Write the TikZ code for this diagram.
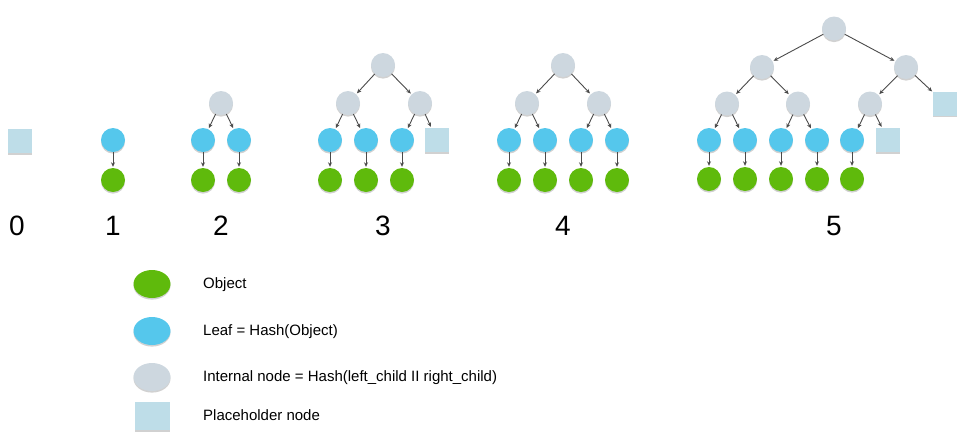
\documentclass[tikz,border=0pt]{standalone}
\usepackage{fontspec}
\setmainfont{Liberation Sans}
\usetikzlibrary{arrows.meta,shadows}
\definecolor{objgreen}{HTML}{5FBA0C}
\definecolor{leafblue}{HTML}{55C7EC}
\definecolor{intgray}{HTML}{CDD7DF}
\definecolor{phblue}{HTML}{BEDDE8}
\definecolor{edgegray}{HTML}{4A4A4A}
\tikzset{
  shad/.style={drop shadow={shadow xshift=0pt,shadow yshift=-1.6pt,opacity=0.18,fill=black}},
  objnode/.style={circle,fill=objgreen,minimum size=24pt,inner sep=0pt,shad},
  leafnode/.style={circle,fill=leafblue,minimum size=24pt,inner sep=0pt,shad},
  intnode/.style={circle,fill=intgray,minimum size=24pt,inner sep=0pt,shad},
  phnode/.style={rectangle,fill=phblue,minimum size=24pt,inner sep=0pt,shad},
  edge/.style={draw=edgegray,line width=0.9pt,-{Stealth[length=4.5pt,width=4pt]},shorten >=1pt},
  numlabel/.style={font=\fontsize{28}{32}\selectfont,inner sep=0pt},
  legtext/.style={font=\fontsize{15}{18}\selectfont,anchor=west,inner sep=0pt},
  legell/.style={ellipse,minimum width=37pt,minimum height=28pt,inner sep=0pt,shad},
}
\usetikzlibrary{shapes.geometric}
\begin{document}
\begin{tikzpicture}[x=1pt,y=-1pt]
\useasboundingbox (0,0) rectangle (966,445);
% group 0
\node[phnode] (g0p) at (20,141) {};
\node[numlabel] (n0) at (17,226) {0};
% group 1
\node[leafnode] (g1l1) at (113,140) {};
\node[objnode] (g1o1) at (113,180) {};
\draw[edge] (g1l1) -- (g1o1);
\node[numlabel] (n1) at (113,226) {1};
% group 2
\node[intnode] (g2r) at (221,103) {};
\node[leafnode] (g2l1) at (203,140) {};
\node[leafnode] (g2l2) at (239,140) {};
\node[objnode] (g2o1) at (203,180) {};
\node[objnode] (g2o2) at (239,180) {};
\draw[edge] (g2r) -- (g2l1);
\draw[edge] (g2r) -- (g2l2);
\draw[edge] (g2l1) -- (g2o1);
\draw[edge] (g2l2) -- (g2o2);
\node[numlabel] (n2) at (221,226) {2};
% group 3
\node[intnode] (g3r) at (383,65) {};
\node[intnode] (g3a) at (348,103) {};
\node[intnode] (g3b) at (420,103) {};
\node[leafnode] (g3l1) at (330,140) {};
\node[leafnode] (g3l2) at (366,140) {};
\node[leafnode] (g3l3) at (402,140) {};
\node[phnode] (g3p) at (437,140) {};
\node[objnode] (g3o1) at (330,180) {};
\node[objnode] (g3o2) at (366,180) {};
\node[objnode] (g3o3) at (402,180) {};
\draw[edge] (g3r) -- (g3a);
\draw[edge] (g3r) -- (g3b);
\draw[edge] (g3a) -- (g3l1);
\draw[edge] (g3a) -- (g3l2);
\draw[edge] (g3b) -- (g3l3);
\draw[edge] (g3b) -- (g3p);
\draw[edge] (g3l1) -- (g3o1);
\draw[edge] (g3l2) -- (g3o2);
\draw[edge] (g3l3) -- (g3o3);
\node[numlabel] (n3) at (383,226) {3};
% group 4
\node[intnode] (g4r) at (563,65) {};
\node[intnode] (g4a) at (527,103) {};
\node[intnode] (g4b) at (599,103) {};
\node[leafnode] (g4l1) at (509,140) {};
\node[leafnode] (g4l2) at (545,140) {};
\node[leafnode] (g4l3) at (581,140) {};
\node[leafnode] (g4l4) at (617,140) {};
\node[objnode] (g4o1) at (509,180) {};
\node[objnode] (g4o2) at (545,180) {};
\node[objnode] (g4o3) at (581,180) {};
\node[objnode] (g4o4) at (617,180) {};
\draw[edge] (g4r) -- (g4a);
\draw[edge] (g4r) -- (g4b);
\draw[edge] (g4a) -- (g4l1);
\draw[edge] (g4a) -- (g4l2);
\draw[edge] (g4b) -- (g4l3);
\draw[edge] (g4b) -- (g4l4);
\draw[edge] (g4l1) -- (g4o1);
\draw[edge] (g4l2) -- (g4o2);
\draw[edge] (g4l3) -- (g4o3);
\draw[edge] (g4l4) -- (g4o4);
\node[numlabel] (n4) at (563,226) {4};
% group 5
\node[intnode] (g5r) at (834,28.5) {};
\node[intnode] (g5a) at (762,67) {};
\node[intnode] (g5b) at (906,67) {};
\node[intnode] (g5c) at (727,103.5) {};
\node[intnode] (g5d) at (798,103.5) {};
\node[intnode] (g5e) at (870,103.5) {};
\node[phnode] (g5p1) at (945,103.5) {};
\node[leafnode] (g5l1) at (709,140) {};
\node[leafnode] (g5l2) at (745,140) {};
\node[leafnode] (g5l3) at (781,140) {};
\node[leafnode] (g5l4) at (817,140) {};
\node[leafnode] (g5l5) at (852,140) {};
\node[phnode] (g5p2) at (888,140) {};
\node[objnode] (g5o1) at (709,179) {};
\node[objnode] (g5o2) at (745,179) {};
\node[objnode] (g5o3) at (781,179) {};
\node[objnode] (g5o4) at (817,179) {};
\node[objnode] (g5o5) at (852,179) {};
\draw[edge] (g5r) -- (g5a);
\draw[edge] (g5r) -- (g5b);
\draw[edge] (g5a) -- (g5c);
\draw[edge] (g5a) -- (g5d);
\draw[edge] (g5b) -- (g5e);
\draw[edge] (g5b) -- (g5p1);
\draw[edge] (g5c) -- (g5l1);
\draw[edge] (g5c) -- (g5l2);
\draw[edge] (g5d) -- (g5l3);
\draw[edge] (g5d) -- (g5l4);
\draw[edge] (g5e) -- (g5l5);
\draw[edge] (g5e) -- (g5p2);
\draw[edge] (g5l1) -- (g5o1);
\draw[edge] (g5l2) -- (g5o2);
\draw[edge] (g5l3) -- (g5o3);
\draw[edge] (g5l4) -- (g5o4);
\draw[edge] (g5l5) -- (g5o5);
\node[numlabel] (n5) at (834,226) {5};
% legend
\node[legell,fill=objgreen] (kobj) at (152,284) {};
\node[legtext] (tobj) at (203,285) {Object};
\node[legell,fill=leafblue] (kleaf) at (152,331) {};
\node[legtext] (tleaf) at (203,332) {Leaf = Hash(Object)};
\node[legell,fill=intgray] (kint) at (152,377) {};
\node[legtext] (tint) at (203,378) {Internal node = Hash(left\_child II right\_child)};
\node[rectangle,fill=phblue,minimum width=35pt,minimum height=28pt,inner sep=0pt,shad] (kph) at (152,416) {};
\node[legtext] (tph) at (203,415) {Placeholder node};
\end{tikzpicture}
\end{document}
